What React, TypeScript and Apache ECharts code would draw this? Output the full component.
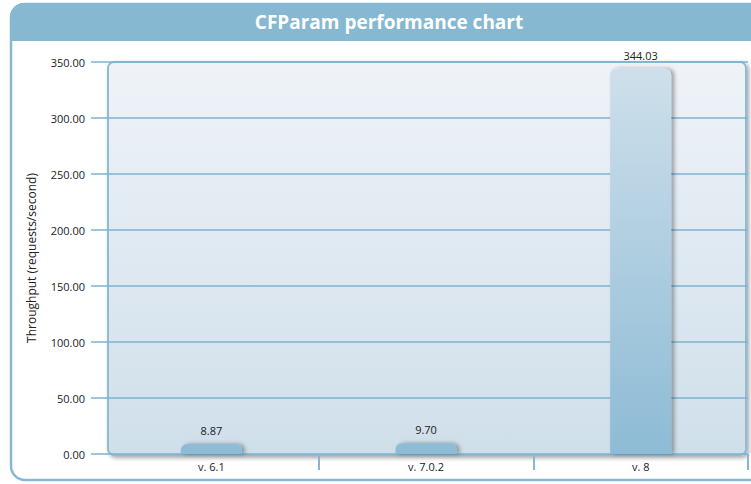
import React, { useEffect, useRef } from "react";
import * as echarts from "echarts";

const categories = ["v. 6.1", "v. 7.0.2", "v. 8"];
const throughput = [8.87, 9.7, 344.03];
const titleText = "CFParam performance chart";
const yAxisName = "Throughput (requests/second)";
const yMin = 0;
const yMax = 350;
const yStep = 50;

const BLUE = "#87b8d2";

export default function App() {
  const ref = useRef<HTMLDivElement>(null);
  useEffect(() => {
    if (!ref.current) return;
    const chart = echarts.init(ref.current, null, { renderer: "svg" });
    const font = "'Open Sans', 'DejaVu Sans', sans-serif";
    chart.setOption({
      animation: false,
      textStyle: { fontFamily: font },
      graphic: [
        {
          type: "rect",
          z: -10,
          shape: { x: 11, y: 4, width: 780, height: 476, r: 14 },
          style: { fill: "#ffffff", stroke: BLUE, lineWidth: 2.5 },
        },
        {
          type: "rect",
          z: -9,
          shape: { x: 10, y: 3, width: 782, height: 38, r: [14, 14, 0, 0] },
          style: { fill: BLUE },
        },
        {
          type: "text",
          z: -8,
          x: 389,
          y: 22,
          style: {
            text: titleText,
            fill: "#ffffff",
            font: "bold 19px 'Open Sans', 'DejaVu Sans', sans-serif",
            align: "center",
            verticalAlign: "middle",
          },
        },
        {
          type: "rect",
          z: -7,
          shape: { x: 108, y: 62, width: 638, height: 393, r: 6 },
          style: {
            fill: {
              type: "linear",
              x: 0,
              y: 0,
              x2: 0,
              y2: 1,
              colorStops: [
                { offset: 0, color: "#eff3f8" },
                { offset: 1, color: "#cfdfea" },
              ],
            },
            stroke: "#8fbcd5",
            lineWidth: 2,
            shadowBlur: 4,
            shadowOffsetX: 2,
            shadowOffsetY: 2,
            shadowColor: "rgba(0,0,0,0.35)",
          },
        },
      ],
      grid: { left: 104, right: 3, top: 62, bottom: 30 },
      xAxis: {
        type: "category",
        data: categories,
        axisLine: { show: false },
        axisTick: {
          show: true,
          length: 16,
          interval: (index: number) => index > 0 && index < categories.length,
          lineStyle: { color: BLUE, width: 2 },
        },
        axisLabel: { color: "#222", fontSize: 11, margin: 7 },
      },
      yAxis: {
        type: "value",
        min: yMin,
        max: yMax,
        interval: yStep,
        name: yAxisName,
        nameLocation: "middle",
        nameRotate: 90,
        nameGap: 67,
        nameTextStyle: { color: "#222", fontSize: 12 },
        axisLine: { show: false },
        axisTick: { show: true, length: 13, lineStyle: { color: "#7db3cf", width: 1.5 } },
        axisLabel: {
          color: "#222",
          fontSize: 11,
          margin: 19,
          formatter: (v: number) => v.toFixed(2),
        },
        splitLine: { show: true, lineStyle: { color: "#7db3cf", width: 1.5 } },
      },
      series: [
        {
          type: "bar",
          data: throughput,
          barWidth: 61,
          itemStyle: {
            color: {
              type: "linear",
              global: true,
              x: 0,
              y: 62,
              x2: 0,
              y2: 454,
              colorStops: [
                { offset: 0, color: "#cfe0eb" },
                { offset: 1, color: "#8dbbd5" },
              ],
            },
            borderRadius: [6, 6, 0, 0],
            shadowBlur: 4,
            shadowOffsetX: 3,
            shadowOffsetY: 0,
            shadowColor: "rgba(0,0,0,0.35)",
          },
          label: {
            show: true,
            position: "top",
            distance: 8,
            color: "#222",
            fontSize: 11,
            formatter: (p: any) => Number(p.value).toFixed(2),
          },
        },
      ],
    });
    return () => chart.dispose();
  }, []);
  return <div ref={ref} style={{ width: 751, height: 484, position: "absolute", left: 0, top: 0 }} />;
}
